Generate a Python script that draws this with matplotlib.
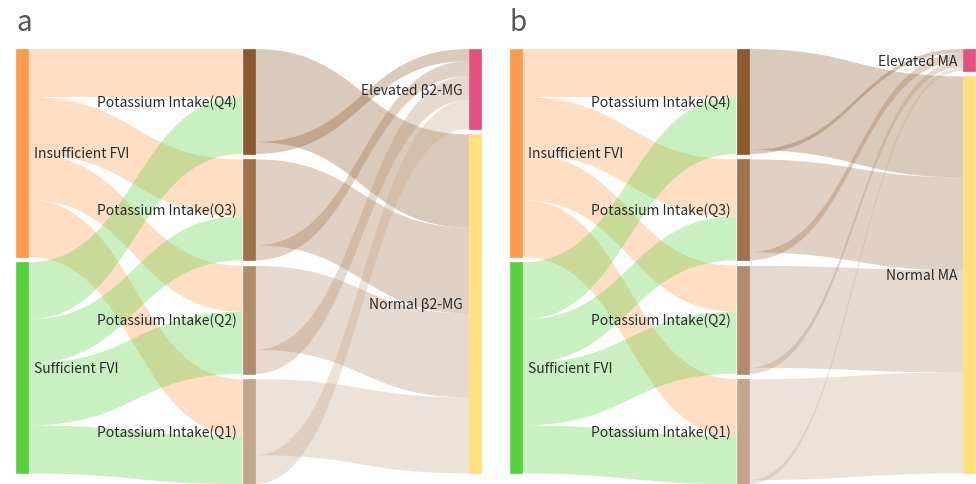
import matplotlib
matplotlib.use("Agg")
import matplotlib.pyplot as plt
from matplotlib.path import Path
from matplotlib.patches import PathPatch, Rectangle
from matplotlib.colors import to_rgba

# ---------------- data ----------------
left_nodes = ["Insufficient FVI", "Sufficient FVI"]
mid_nodes = ["Potassium Intake(Q4)", "Potassium Intake(Q3)",
             "Potassium Intake(Q2)", "Potassium Intake(Q1)"]
right_nodes_a = ["Elevated β2-MG", "Normal β2-MG"]
right_nodes_b = ["Elevated MA", "Normal MA"]

# flows FVI -> potassium quartile (Q4, Q3, Q2, Q1)
ins_to_q = [48, 57, 46, 57]
suf_to_q = [57, 44, 62, 48]
# flows quartile -> outcome, panel a (beta2-MG)
q_to_elev_a = [12, 15, 24, 29]
q_to_norm_a = [93, 86, 84, 76]
# flows quartile -> outcome, panel b (MA)
q_to_elev_b = [4, 8, 6, 4]
q_to_norm_b = [101, 93, 102, 101]

panel_letters = ["a", "b"]

# ---------------- style ----------------
left_colors = ["#FF9A4A", "#58D23C"]
mid_colors = ["#8B5A2E", "#A0714A", "#B28A6C", "#C4A58C"]
right_colors = ["#E2527C", "#FFE07C"]
LINK_ALPHA = 0.32
PAD = 5.4
NW = 12 / 226.5
LABEL_GAP = 6 / 226.5
LABEL_DY = 1.5
FONT = ["Noto Sans CJK SC", "DejaVu Sans"]
FS = 10.0

W, H = 976, 484
fig = plt.figure(figsize=(W / 100, H / 100), dpi=100)


def stack(vals, pad):
    tops, y = [], 0.0
    for v in vals:
        tops.append(y)
        y += v + pad
    return tops


def link(ax, x0, x1, ys0, ys1, yt0, yt1, color):
    xm = (x0 + x1) / 2
    verts = [(x0, ys0), (xm, ys0), (xm, yt0), (x1, yt0),
             (x1, yt1), (xm, yt1), (xm, ys1), (x0, ys1), (x0, ys0)]
    codes = [Path.MOVETO, Path.CURVE4, Path.CURVE4, Path.CURVE4,
             Path.LINETO, Path.CURVE4, Path.CURVE4, Path.CURVE4, Path.CLOSEPOLY]
    ax.add_patch(PathPatch(Path(verts, codes), facecolor=to_rgba(color, LINK_ALPHA),
                           edgecolor="none", lw=0, zorder=1))


def draw_panel(ax, right_names, q_elev, q_norm):
    left_vals = [sum(ins_to_q), sum(suf_to_q)]
    mid_vals = [a + b for a, b in zip(ins_to_q, suf_to_q)]
    right_vals = [sum(q_elev), sum(q_norm)]
    lt = stack(left_vals, PAD)
    mt = stack(mid_vals, PAD)
    rt = stack(right_vals, PAD)

    # left -> mid links
    src_off = list(lt)
    tgt_off = list(mt)
    for s, flows in enumerate([ins_to_q, suf_to_q]):
        for q, v in enumerate(flows):
            link(ax, NW, 1.0, src_off[s], src_off[s] + v,
                 tgt_off[q], tgt_off[q] + v, left_colors[s])
            src_off[s] += v
            tgt_off[q] += v

    # mid -> right links (normal leaves from top, elevated from bottom)
    src_off = list(mt)
    tgt_off = list(rt)
    for q in range(4):
        for r, flows in [(1, q_norm), (0, q_elev)]:
            v = flows[q]
            link(ax, 1.0 + NW, 2.0, src_off[q], src_off[q] + v,
                 tgt_off[r], tgt_off[r] + v, mid_colors[q])
            src_off[q] += v
            tgt_off[r] += v

    # nodes + labels
    for col, names, vals, tops, cols in [
            (0, left_nodes, left_vals, lt, left_colors),
            (1, mid_nodes, mid_vals, mt, mid_colors),
            (2, right_names, right_vals, rt, right_colors)]:
        for name, v, t, c in zip(names, vals, tops, cols):
            ax.add_patch(Rectangle((col, t), NW, v, facecolor=c,
                                   edgecolor=c, lw=0.5, zorder=3))
            if col == 0:
                ax.text(col + NW + LABEL_GAP, t + v / 2 + LABEL_DY, name, ha="left",
                        va="center", fontsize=FS, family=FONT, color="#2b2b2b", zorder=4)
            else:
                ax.text(col - LABEL_GAP, t + v / 2 + LABEL_DY, name, ha="right",
                        va="center", fontsize=FS, family=FONT, color="#2b2b2b", zorder=4)

    height = max(sum(left_vals) + PAD, sum(mid_vals) + 3 * PAD, sum(right_vals) + PAD)
    ax.set_xlim(0, 2 + NW)
    ax.set_ylim(height, 0)
    ax.axis("off")
    return height


panels = [(16, right_nodes_a, q_to_elev_a, q_to_norm_a),
          (510, right_nodes_b, q_to_elev_b, q_to_norm_b)]
for (x_px, rn, qe, qn), letter in zip(panels, panel_letters):
    top_px = 49
    h_units = sum(ins_to_q) + sum(suf_to_q) + 3 * PAD
    width_px = 2 * 226.5 + 12
    ax = fig.add_axes([x_px / W, 1 - (top_px + h_units) / H, width_px / W, h_units / H])
    draw_panel(ax, rn, qe, qn)
    for p in ax.patches:
        p.set_clip_on(False)
    fig.text((x_px + 0) / W, 1 - 23 / H, letter, fontsize=20, family=FONT,
             color="#555555", ha="left", va="center")

fig.savefig("out.png", dpi=100)
